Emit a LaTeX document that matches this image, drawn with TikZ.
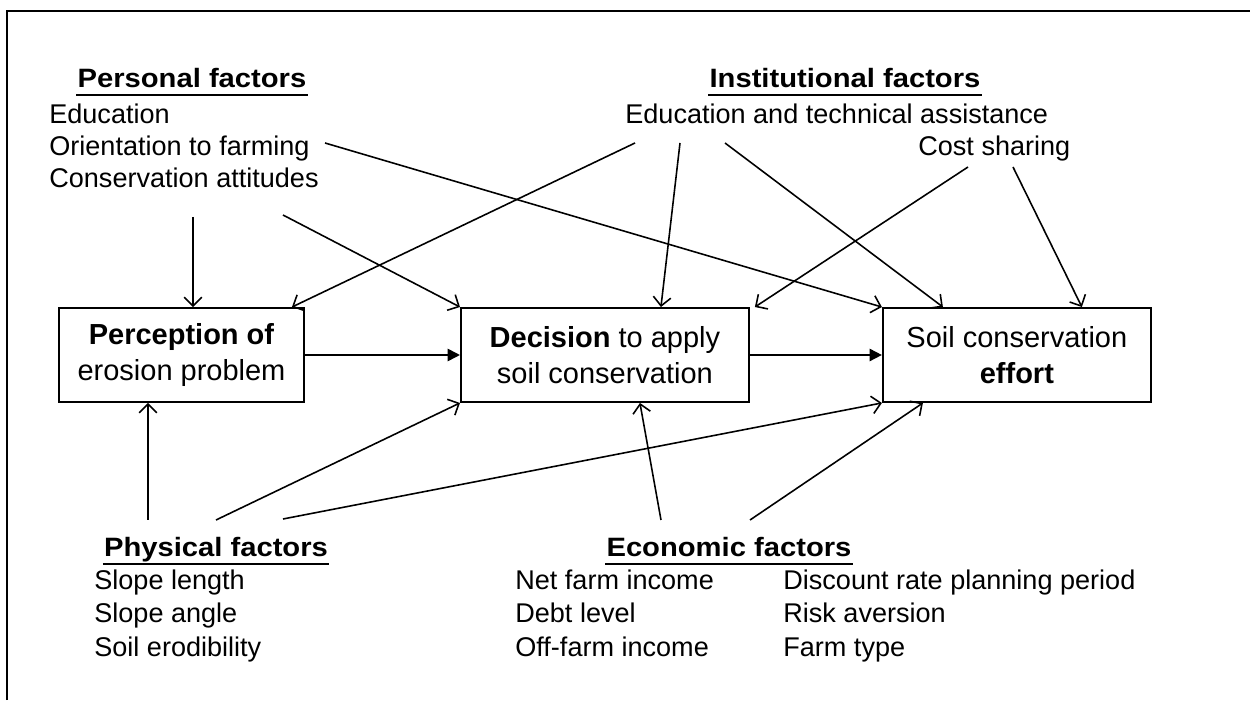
\documentclass[tikz,border=0pt]{standalone}
\usepackage{fontspec}
\setmainfont{Liberation Sans}
\newfontfamily\headfont{Liberation Sans}[FakeStretch=1.1]
\usetikzlibrary{arrows.meta,positioning}

\begin{document}
\begin{tikzpicture}[
    box/.style={rectangle, draw, line width=1.1pt, minimum height=1.88cm, align=center, font=\fontsize{16.5}{20.5}\selectfont},
    factorhead/.style={anchor=base, inner sep=0pt, font=\headfont\bfseries\fontsize{15.1}{18}\selectfont},
    factor/.style={anchor=base west, inner sep=0pt, font=\fontsize{15.4}{18}\selectfont},
    underline/.style={line width=1.1pt, shorten <=-0.5pt, shorten >=-0.5pt},
    arrow/.style={-{Straight Barb[length=5pt,width=10pt]}, line width=0.9pt},
    flow/.style={-{Triangle[length=7pt,width=7pt]}, line width=1pt}]

    \useasboundingbox (0,0) rectangle (25,14);
    % frame: only top and left edges are kept
    \draw[line width=1.4pt] (0.14,0) -- (0.14,13.78) -- (25,13.78);

    % the three stages
    \node[box, minimum width=4.9cm] (percep) at (3.63,6.9) {\textbf{Perception of}\\erosion problem};
    \node[box, minimum width=5.76cm, right=3.1cm of percep] (decide) {\textbf{Decision} to apply\\soil conservation};
    \node[box, minimum width=5.36cm, right=2.64cm of decide] (effort) {Soil conservation\\\textbf{effort}};

    % personal factors
    \node[factorhead] (perhead) at (3.84,12.24) {Personal factors};
    \node[factor] (peredu) at (0.98,11.52) {Education};
    \node[factor] (perorient) at (0.98,10.88) {Orientation to farming};
    \node[factor] (perattit) at (0.98,10.24) {Conservation attitudes};

    % institutional factors
    \node[factorhead] (insthead) at (16.9,12.24) {Institutional factors};
    \node[factor] (instedu) at (12.5,11.52) {Education and technical assistance};
    \node[factor] (instcost) at (18.36,10.88) {Cost sharing};

    % physical factors
    \node[factorhead] (physhead) at (4.32,2.86) {Physical factors};
    \node[factor] (physlen) at (1.88,2.2) {Slope length};
    \node[factor] (physang) at (1.88,1.54) {Slope angle};
    \node[factor] (physsoil) at (1.88,0.88) {Soil erodibility};

    % economic factors
    \node[factorhead] (econhead) at (14.58,2.86) {Economic factors};
    \node[factor] (econinc) at (10.3,2.2) {Net farm income};
    \node[factor] (econdebt) at (10.3,1.54) {Debt level};
    \node[factor] (econoff) at (10.3,0.88) {Off-farm income};
    \node[factor] (econdisc) at (15.66,2.2) {Discount rate planning period};
    \node[factor] (econrisk) at (15.66,1.54) {Risk aversion};
    \node[factor] (econtype) at (15.66,0.88) {Farm type};

    % underline the four headings
    \draw[underline] ([yshift=-3.8pt]perhead.base west) -- ([yshift=-3.8pt]perhead.base east);
    \draw[underline] ([yshift=-3.8pt]insthead.base west) -- ([yshift=-3.8pt]insthead.base east);
    \draw[underline] ([yshift=-3.8pt]physhead.base west) -- ([yshift=-3.8pt]physhead.base east);
    \draw[underline] ([yshift=-3.8pt]econhead.base west) -- ([yshift=-3.8pt]econhead.base east);

    % where the influence arrows leave the factor lists
    \coordinate (perA) at (3.86,9.66);
    \coordinate (perB) at (5.66,9.7);
    \coordinate (perC) at (6.5,11.14);
    \coordinate (instA) at (12.7,11.14);
    \coordinate (instB) at (13.6,11.14);
    \coordinate (instC) at (14.5,11.14);
    \coordinate (costA) at (19.36,10.66);
    \coordinate (costB) at (20.26,10.66);
    \coordinate (physA) at (2.96,3.6);
    \coordinate (physB) at (4.32,3.6);
    \coordinate (physC) at (5.66,3.62);
    \coordinate (econA) at (13.22,3.6);
    \coordinate (econB) at (15.0,3.6);

    \draw[flow] (percep) -- (decide);
    \draw[flow] (decide) -- (effort);

    \draw[arrow] (perA) -- (perA |- percep.north);
    \draw[arrow] (perB) -- (decide.north west);
    \draw[arrow] (perC) -- (effort.north west);
    \draw[arrow] (instA) -- ([xshift=-0.26cm]percep.north east);
    \draw[arrow] (instB) -- ([xshift=1.12cm]decide.north);
    \draw[arrow] (instC) -- ([xshift=1.22cm]effort.north west);
    \draw[arrow] (costA) -- ([xshift=0.1cm]decide.north east);
    \draw[arrow] (costB) -- ([xshift=1.3cm]effort.north);
    \draw[arrow] (physA) -- (physA |- percep.south);
    \draw[arrow] (physB) -- (decide.south west);
    \draw[arrow] (physC) -- (effort.south west);
    \draw[arrow] (econA) -- ([xshift=0.7cm]decide.south);
    \draw[arrow] (econB) -- ([xshift=0.82cm]effort.south west);
\end{tikzpicture}
\end{document}
